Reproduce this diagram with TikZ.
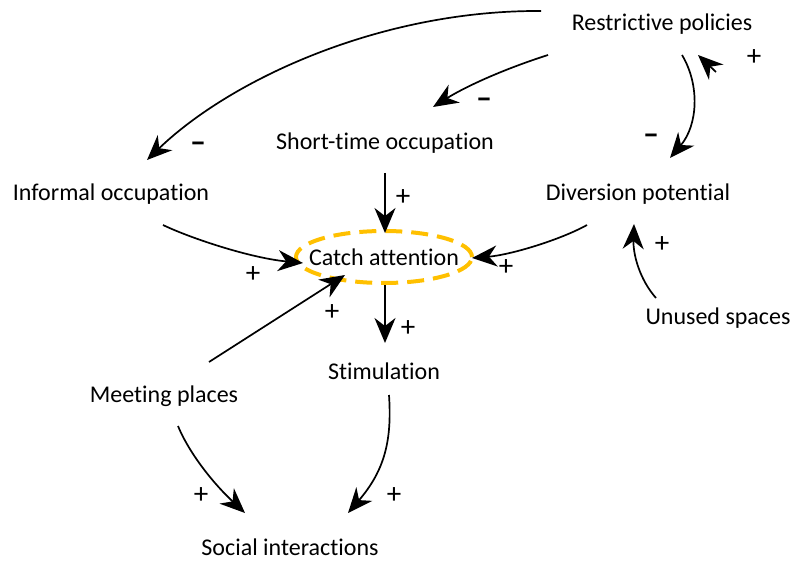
\documentclass[tikz,border=0pt]{standalone}
\usepackage{fontspec}
\setmainfont{Carlito}[Ligatures=NoCommon]
\usetikzlibrary{arrows.meta,shapes.geometric}
\definecolor{focusgold}{RGB}{255,192,0}
\begin{document}
\begin{tikzpicture}[x=1pt,y=-1pt,
  var/.style={inner sep=0pt,font=\fontsize{24}{28}\selectfont},
  link/.style={line width=1.7pt,-{Stealth[length=25pt,width=21pt,inset=8pt]}},
  sign/.style={inner sep=0pt,font=\fontsize{29}{32}\selectfont},
  neg/.style={inner sep=0pt,font=\fontsize{32}{36}\selectfont\bfseries},
  focus/.style={draw=focusgold,line width=4pt,dash pattern=on 17pt off 9pt,ellipse,minimum width=176pt,minimum height=52pt,inner sep=0pt}]
\useasboundingbox (0,0) rectangle (794,561);

% variables
\node[var] (rp) at (662,24) {Restrictive policies};
\node[var] (st) at (385,143) {Short-time occupation};
\node[var] (io) at (111,194) {Informal occupation};
\node[var] (dp) at (638,194) {Diversion potential};
\node[var] (ca) at (384,257) {Catch attention};
\node[var] (us) at (718,318) {Unused spaces};
\node[var] (sm) at (384,371) {Stimulation};
\node[var] (mp) at (164,396) {Meeting places};
\node[var] (si) at (290,547) {Social interactions};

% highlighted variable
\node[focus] (ring) at (ca) {};

% causal links
\draw[link] ([shift={(-121,-13)}]rp.center) .. controls (380,10) and (230,80) .. ([shift={(36,-34)}]io.center);
\draw[link] ([shift={(-114,31)}]rp.center) .. controls (495,72) and (460,90) .. ([shift={(48,-36)}]st.center);
\draw[link] ([shift={(20,31)}]rp.center) .. controls (700,85) and (698,125) .. ([shift={(32,-36)}]dp.center);
\draw[link] ([shift={(54,48)}]rp.center) -- ([shift={(36,31)}]rp.center);
\draw[link] ([shift={(0,30)}]st.center) -- ([shift={(1,-24)}]ca.center);
\draw[link] ([shift={(52,31)}]io.center) .. controls (190,238) and (250,258) .. ([shift={(-81,6)}]ca.center);
\draw[link] ([shift={(-51,31)}]dp.center) .. controls (560,240) and (510,255) .. ([shift={(88,1)}]ca.center);
\draw[link] ([shift={(-62,-20)}]us.center) .. controls (640,280) and (633,255) .. ([shift={(-4,30)}]dp.center);
\draw[link] ([shift={(45,-34)}]mp.center) -- ([shift={(-39,18)}]ca.center);
\draw[link] ([shift={(1,28)}]ca.center) -- ([shift={(1,-28)}]sm.center);
\draw[link] ([shift={(14,30)}]mp.center) .. controls (190,455) and (215,485) .. ([shift={(-45,-34)}]si.center);
\draw[link] ([shift={(5,24)}]sm.center) .. controls (392,440) and (385,470) .. ([shift={(58,-34)}]si.center);

% polarities
\node[neg] (n1) at (198,147) {–};
\node[neg] (n2) at (484,103) {–};
\node[neg] (n3) at (651,139) {–};
\node[sign] (p1) at (754,58) {+};
\node[sign] (p2) at (403,198) {+};
\node[sign] (p3) at (253,275) {+};
\node[sign] (p4) at (506,268) {+};
\node[sign] (p5) at (662,245) {+};
\node[sign] (p6) at (332,313) {+};
\node[sign] (p7) at (408,329) {+};
\node[sign] (p8) at (201,496) {+};
\node[sign] (p9) at (394,496) {+};
\end{tikzpicture}
\end{document}
